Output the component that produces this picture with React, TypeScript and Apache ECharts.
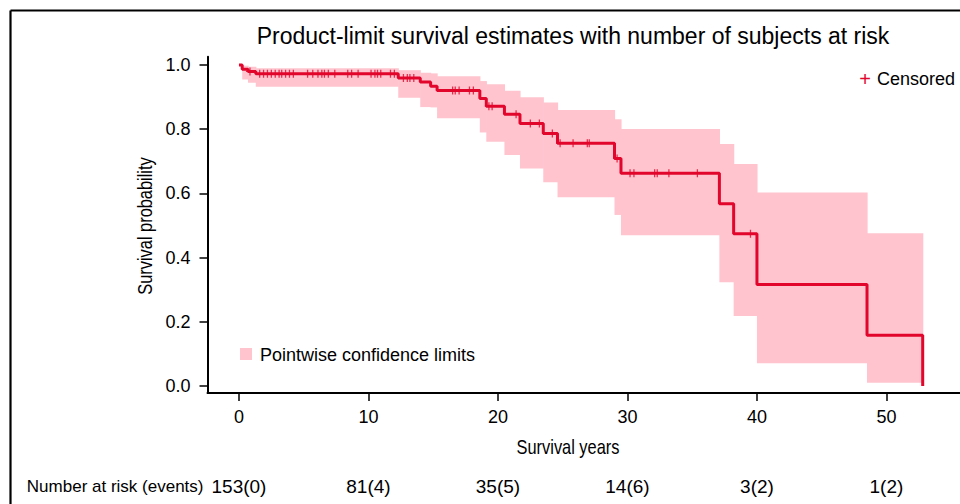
import React, { useEffect, useRef } from "react";
import * as echarts from "echarts";

// Kaplan-Meier step points (time in years, survival probability)
const eventTimes = [0, 0.25, 0.7, 1.3, 12.3, 14.0, 14.8, 15.3, 18.6, 19.1, 20.5, 21.7, 23.5, 24.6, 29.0, 29.5, 37.1, 38.2, 40.0, 48.5, 52.8];
const survival = [1.0, 0.987, 0.98, 0.973, 0.96, 0.947, 0.934, 0.921, 0.896, 0.872, 0.847, 0.818, 0.787, 0.756, 0.709, 0.663, 0.568, 0.474, 0.316, 0.158, 0.0];

// Pointwise confidence band, one interval per step
const bandStart = [0.25, 0.7, 1.3, 12.3, 14.0, 14.8, 15.3, 18.6, 19.1, 20.5, 21.7, 23.5, 24.6, 29.0, 29.5, 37.1, 38.2, 40.0, 48.5];
const bandEnd = [0.7, 1.3, 12.3, 14.0, 14.8, 15.3, 18.6, 19.1, 20.5, 21.7, 23.5, 24.6, 29.0, 29.5, 37.1, 38.2, 40.0, 48.5, 52.8];
const bandLower = [0.955, 0.945, 0.932, 0.898, 0.869, 0.868, 0.834, 0.79, 0.761, 0.72, 0.678, 0.635, 0.588, 0.533, 0.47, 0.323, 0.218, 0.071, 0.01];
const bandUpper = [0.998, 0.995, 0.99, 0.984, 0.976, 0.974, 0.965, 0.95, 0.94, 0.92, 0.9, 0.883, 0.86, 0.831, 0.801, 0.754, 0.692, 0.603, 0.476];

// Censoring times
const censorTimes = [
  0.85, 1.6, 1.9, 2.2, 2.5, 2.8, 3.1, 3.3, 3.6, 3.9, 4.2, 5.3, 5.7, 6.1, 6.4, 6.6, 6.9, 7.4, 8.4, 8.7, 9.2,
  10.2, 10.5, 10.7, 10.95, 11.7, 12.0, 12.7, 13.0, 13.2, 13.5, 16.5, 16.7, 17.0, 17.8, 18.1, 19.3, 19.55,
  21.4, 22.5, 23.2, 24.2, 24.8, 25.8, 26.9, 27.05, 29.2, 30.2, 30.5, 32.1, 32.3, 33.2, 35.4, 39.5,
];

const xTicks = [0, 10, 20, 30, 40, 50];
const yTicks = [0, 0.2, 0.4, 0.6, 0.8, 1.0];
const atRiskTimes = [0, 10, 20, 30, 40, 50];
const atRiskLabels = ["153(0)", "81(4)", "35(5)", "14(6)", "3(2)", "1(2)"];

const RED = "#e2062c";
const PINK = "#ffc4ce";
const SANS = '"Liberation Sans", Arial, Helvetica, sans-serif';

function survivalAt(t: number): number {
  let s = survival[0];
  for (let i = 0; i < eventTimes.length; i++) {
    if (eventTimes[i] <= t) s = survival[i];
  }
  return s;
}

export default function App() {
  const ref = useRef<HTMLDivElement>(null);
  useEffect(() => {
    if (!ref.current) return;
    const chart = echarts.init(ref.current, undefined, { renderer: "svg" });
    const kmData = eventTimes.map((t, i) => [t, survival[i]]);
    const bandData = bandStart.map((t, i) => [t, bandEnd[i], bandLower[i], bandUpper[i]]);
    const censorData = censorTimes.map((t) => [t, survivalAt(t)]);
    chart.setOption({
      animation: false,
      backgroundColor: "#ffffff",
      title: {
        text: "Product-limit survival estimates with number of subjects at risk",
        left: 573,
        top: 24,
        padding: 0,
        textAlign: "center",
        textStyle: { fontFamily: SANS, fontSize: 23, fontWeight: "normal", color: "#000" },
      },
      grid: { left: 207.5, right: 0, top: 56.7, bottom: 111, outerBoundsMode: "none", containLabel: false },
      xAxis: [
        {
          type: "value",
          min: -2.43,
          max: 55.68,
          position: "bottom",
          axisLine: { show: true, onZero: false, lineStyle: { color: "#000", width: 2 } },
          axisTick: { show: true, customValues: xTicks, length: 8, lineStyle: { color: "#000", width: 1.5 } },
          axisLabel: { customValues: xTicks, fontFamily: SANS, fontSize: 18, color: "#000", margin: 15 },
          splitLine: { show: false },
        },
        {
          type: "value",
          min: -2.43,
          max: 55.68,
          position: "bottom",
          offset: 93,
          name: "Number at risk (events)",
          nameLocation: "start",
          nameGap: 4,
          nameTextStyle: { fontFamily: SANS, fontSize: 17, color: "#000", align: "right", verticalAlign: "middle" },
          axisLine: { show: false, onZero: false },
          axisTick: { show: false },
          axisLabel: {
            customValues: atRiskTimes,
            formatter: (v: number) => {
              const i = atRiskTimes.indexOf(v);
              return i >= 0 ? atRiskLabels[i] : "";
            },
            fontFamily: SANS,
            fontSize: 19,
            color: "#000",
            margin: 0,
            verticalAlign: "middle",
          },
          splitLine: { show: false },
        },
      ],
      yAxis: {
        type: "value",
        min: -0.0218,
        max: 1.026,
        axisLine: { show: true, onZero: false, lineStyle: { color: "#000", width: 2 } },
        axisTick: { show: true, customValues: yTicks, length: 8, lineStyle: { color: "#000", width: 1.5 } },
        axisLabel: {
          customValues: yTicks,
          formatter: (v: number) => v.toFixed(1),
          fontFamily: SANS,
          fontSize: 18,
          color: "#000",
          margin: 17,
        },
        splitLine: { show: false },
      },
      series: [
        {
          type: "custom",
          name: "Pointwise confidence limits",
          xAxisIndex: 0,
          data: bandData,
          encode: { x: [0, 1], y: [2, 3] },
          silent: true,
          z: 1,
          renderItem: (params: any, api: any) => {
            const p0 = api.coord([api.value(0), api.value(3)]);
            const p1 = api.coord([api.value(1), api.value(2)]);
            return {
              type: "rect",
              shape: { x: p0[0], y: p0[1], width: p1[0] - p0[0] + 0.6, height: p1[1] - p0[1] },
              style: { fill: PINK },
            };
          },
        },
        {
          type: "line",
          name: "Survival",
          xAxisIndex: 0,
          data: kmData,
          step: "end",
          showSymbol: false,
          lineStyle: { color: RED, width: 3 },
          z: 3,
        },
        {
          type: "scatter",
          name: "Censored",
          xAxisIndex: 0,
          data: censorData,
          symbol: "path://M-0.8,-5h1.6v4.2h4.2v1.6h-4.2v4.2h-1.6v-4.2h-4.2v-1.6h4.2z",
          symbolSize: 8,
          itemStyle: { color: RED },
          z: 4,
        },
      ],
      graphic: [
        { type: "line", shape: { x1: 10.5, y1: 10.5, x2: 970, y2: 10.5 }, style: { stroke: "#000", lineWidth: 2.2 } },
        { type: "line", shape: { x1: 10.5, y1: 10.5, x2: 10.5, y2: 520 }, style: { stroke: "#000", lineWidth: 2.2 } },
        {
          type: "text",
          x: 568,
          y: 447,
          scaleX: 0.82,
          style: { text: "Survival years", fill: "#000", fontFamily: SANS, fontSize: 20, align: "center", verticalAlign: "middle" },
        },
        {
          type: "text",
          x: 145,
          y: 226,
          rotation: Math.PI / 2,
          scaleX: 0.82,
          style: { text: "Survival probability", fill: "#000", fontFamily: SANS, fontSize: 20, align: "center", verticalAlign: "middle" },
        },
        {
          type: "text",
          x: 865,
          y: 79,
          style: { text: "+", fill: RED, fontFamily: SANS, fontSize: 20, align: "center", verticalAlign: "middle" },
        },
        {
          type: "text",
          x: 877,
          y: 79,
          style: { text: "Censored", fill: "#000", fontFamily: SANS, fontSize: 18, align: "left", verticalAlign: "middle" },
        },
        { type: "rect", shape: { x: 240, y: 348, width: 12, height: 12 }, style: { fill: PINK } },
        {
          type: "text",
          x: 260,
          y: 355,
          style: {
            text: "Pointwise confidence limits",
            fill: "#000",
            fontFamily: SANS,
            fontSize: 18,
            align: "left",
            verticalAlign: "middle",
          },
        },
      ],
    });
    return () => chart.dispose();
  }, []);
  return (
    <div
      ref={ref}
      style={{ position: "fixed", left: 0, top: 0, width: 960, height: 504, background: "#fff" }}
    />
  );
}
